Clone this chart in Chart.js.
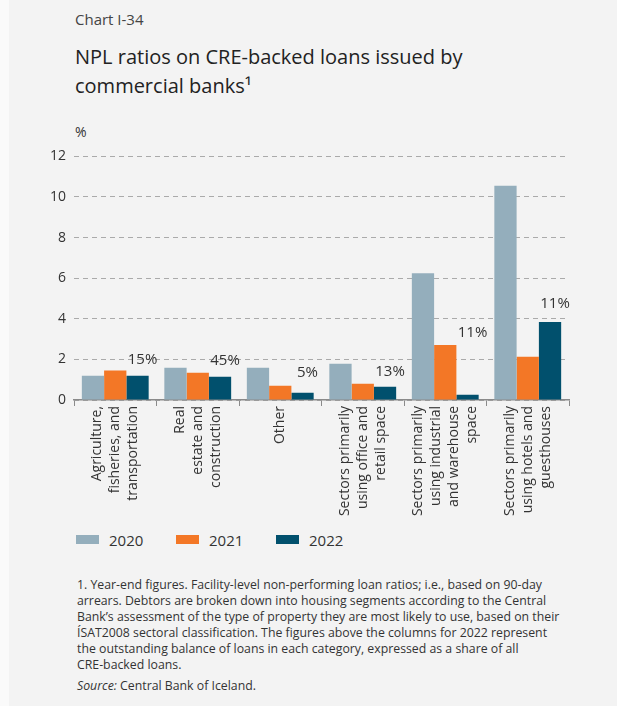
<!DOCTYPE html>
<html>
<head>
<meta charset="utf-8">
<script src="https://cdn.jsdelivr.net/npm/chart.js@4"></script>
<style>
  html, body { margin: 0; padding: 0; background: #fafafa; }
  body { width: 617px; height: 706px; position: relative; overflow: hidden; font-family: "Open Sans", sans-serif; color: #333; }
  .panel { position: absolute; left: 9px; top: 0; width: 608px; height: 706px; background: #f3f3f3; }
  .chartno { position: absolute; left: 75px; top: 9px; font-size: 15px; color: #444; }
  .title { position: absolute; left: 75px; top: 42px; font-size: 20px; line-height: 29px; color: #222; }
  .unit { position: absolute; left: 75px; top: 122px; font-size: 14px; color: #333; }
  #wrap { position: absolute; left: 0; top: 140px; width: 617px; height: 380px; }
  #legend { position: absolute; left: 76px; top: 530px; font-size: 15px; color: #333; }
  #legend span.item { position: absolute; top: 0; white-space: nowrap; }
  #legend span.box { display: inline-block; width: 23px; height: 9px; margin-right: 10px; vertical-align: 2px; }
  .note { position: absolute; left: 77px; top: 577px; font-size: 12.3px; line-height: 16px; color: #333; white-space: nowrap; }
  .note .src { display: block; margin-top: 5px; }
</style>
</head>
<body>
<div class="panel"></div>
<div class="chartno">Chart I-34</div>
<div class="title">NPL ratios on CRE-backed loans issued by<br>commercial banks¹</div>
<div class="unit">%</div>
<div id="wrap"><canvas id="grafica"></canvas></div>
<div id="legend"></div>
<div class="note">
  1. Year-end figures. Facility-level non-performing loan ratios; i.e., based on 90-day<br>
  arrears. Debtors are broken down into housing segments according to the Central<br>
  Bank’s assessment of the type of property they are most likely to use, based on their<br>
  ÍSAT2008 sectoral classification. The figures above the columns for 2022 represent<br>
  the outstanding balance of loans in each category, expressed as a share of all<br>
  CRE-backed loans.
  <span class="src"><i>Source:</i> Central Bank of Iceland.</span>
</div>

<script>
// Sectors (each label split into lines)
const sectores = [
    ["Agriculture,", "fisheries, and", "transportation"],
    ["Real", "estate and", "construction"],
    ["Other"],
    ["Sectors primarily", "using office and", "retail space"],
    ["Sectors primarily", "using industrial", "and warehouse", "space"],
    ["Sectors primarily", "using hotels and", "guesthouses"]
];

const anios = ["2020", "2021", "2022"];

// NPL ratio, %
const npl2020 = [1.19, 1.59, 1.59, 1.78, 6.24, 10.56];
const npl2021 = [1.45, 1.34, 0.70, 0.80, 2.71, 2.13];
const npl2022 = [1.19, 1.14, 0.36, 0.65, 0.26, 3.84];

// share of all CRE-backed loans, 2022
const participacion = ["15%", "45%", "5%", "13%", "11%", "11%"];

const colores = ["#94aebc", "#f37726", "#01506d"];

// where the share labels sit (in % units of the y axis)
const alturaEtiqueta = [1.98, 1.95, 1.32, 1.41, 3.32, 4.76];

const FUENTE = '"Open Sans", sans-serif';

// multi-line x labels, centred on each category and read bottom-to-top
const etiquetasX = {
    id: "etiquetasX",
    afterDraw(chart) {
        const ctx = chart.ctx;
        const x = chart.scales.x;
        const lh = 18;
        ctx.save();
        ctx.font = "14px " + FUENTE;
        ctx.fillStyle = "#333";
        ctx.textAlign = "right";
        ctx.textBaseline = "middle";
        sectores.forEach((lineas, i) => {
            const cx = x.getPixelForValue(i);
            const n = lineas.length;
            lineas.forEach((t, j) => {
                const px = cx + (j - (n - 1) / 2) * lh;
                ctx.save();
                ctx.translate(px, x.top + 6);
                ctx.rotate(-Math.PI / 2);
                ctx.fillText(t, 0, 0);
                ctx.restore();
            });
        });
        ctx.restore();
    }
};

// share labels next to the 2022 columns
const etiquetasParticipacion = {
    id: "etiquetasParticipacion",
    afterDatasetsDraw(chart) {
        const ctx = chart.ctx;
        const meta = chart.getDatasetMeta(2);
        const y = chart.scales.y;
        ctx.save();
        ctx.font = "15px " + FUENTE;
        ctx.fillStyle = "#333";
        ctx.textAlign = "center";
        ctx.textBaseline = "middle";
        meta.data.forEach((bar, i) => {
            ctx.fillText(participacion[i], bar.x + 5, y.getPixelForValue(alturaEtiqueta[i]));
        });
        ctx.restore();
    }
};

const grafica = new Chart(document.getElementById("grafica").getContext("2d"), {
    type: "bar",
    data: {
        labels: sectores.map(s => s.join(" ")),
        datasets: anios.map((a, k) => ({
            label: a,
            data: [npl2020, npl2021, npl2022][k],
            backgroundColor: colores[k],
            borderWidth: 0,
            categoryPercentage: 0.81,
            barPercentage: 1
        }))
    },
    options: {
        responsive: true,
        maintainAspectRatio: false,
        animation: false,
        layout: { padding: { top: 16, right: 48, left: 0, bottom: 0 } },
        plugins: {
            legend: { display: false },
            tooltip: { enabled: false }
        },
        scales: {
            x: {
                ticks: { display: false },
                grid: {
                    drawOnChartArea: false,
                    drawTicks: true,
                    tickLength: 6,
                    color: "#8a8a8a",
                    offset: true
                },
                border: { display: true, color: "#8a8a8a", width: 1.5 },
                afterFit(scale) { scale.height = 120; }
            },
            y: {
                min: 0,
                max: 12,
                ticks: {
                    stepSize: 2,
                    color: "#333",
                    padding: 8,
                    font: { family: FUENTE, size: 14 }
                },
                grid: { color: "#aaaaaa", lineWidth: 1, drawTicks: false },
                border: { display: false, dash: [5, 4] },
                afterFit(scale) { scale.width = 74; }
            }
        }
    },
    plugins: [etiquetasX, etiquetasParticipacion]
});

// legend built from the same series
const leyenda = document.getElementById("legend");
anios.forEach((a, k) => {
    const item = document.createElement("span");
    item.className = "item";
    item.style.left = (k * 100) + "px";
    item.innerHTML = '<span class="box" style="background:' + colores[k] + '"></span>' + a;
    leyenda.appendChild(item);
});
</script>
</body>
</html>
